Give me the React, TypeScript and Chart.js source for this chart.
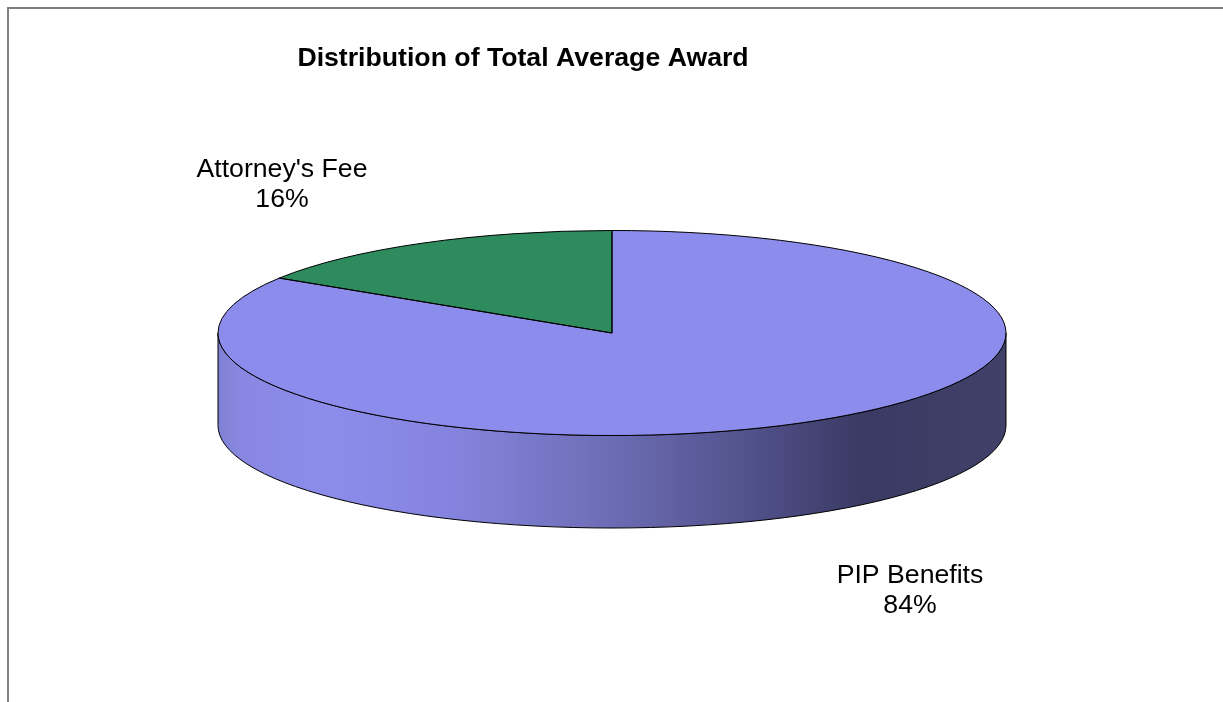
import React, { useEffect, useRef } from "react";
import { Chart, registerables } from "chart.js";

Chart.register(...registerables);

const chartTitle = "Distribution of Total Average Award";
const categories = ["PIP Benefits", "Attorney's Fee"];
const awardShares = [84, 16];
const sliceColors = ["#8C8CEC", "#2E8B5E"];

const FONT = '"Liberation Sans", Arial, sans-serif';
const TILT = 102.5 / 394;
const DEPTH = 92.5;

const piePlugin = {
  id: "tiltedPie",
  beforeDraw(chart: any) {
    const { ctx } = chart;
    ctx.save();
    ctx.fillStyle = "#FFFFFF";
    ctx.fillRect(0, 0, chart.width, chart.height);
    ctx.fillStyle = "#808080";
    ctx.fillRect(7, 7, chart.width - 7, 2);
    ctx.fillRect(7, 7, 2, chart.height - 7);
    ctx.restore();
  },
  beforeDatasetsDraw(chart: any) {
    const { ctx } = chart;
    const arcs = chart.getDatasetMeta(0).data;
    ctx.save();
    arcs.forEach((arc: any, i: number) => {
      const { x, y, startAngle, endAngle, outerRadius: r } = arc.getProps(["x", "y", "startAngle", "endAngle", "outerRadius"], true);
      const a0 = Math.max(startAngle, 0);
      const a1 = Math.min(endAngle, Math.PI);
      if (a1 <= a0) return;
      const ry = r * TILT;
      const g = ctx.createLinearGradient(x - r, 0, x + r, 0);
      g.addColorStop(0, "#8080D4");
      g.addColorStop(0.03, "#8888E2");
      g.addColorStop(0.14, "#8C8CEC");
      g.addColorStop(0.3, "#8484DE");
      g.addColorStop(0.5, "#6C6CB4");
      g.addColorStop(0.68, "#50508A");
      g.addColorStop(0.82, "#3A3A64");
      g.addColorStop(1, "#404068");
      ctx.beginPath();
      ctx.ellipse(x, y + DEPTH, r, ry, 0, a0, a1);
      ctx.ellipse(x, y, r, ry, 0, a1, a0, true);
      ctx.closePath();
      ctx.fillStyle = g;
      ctx.fill();
      ctx.strokeStyle = "#000000";
      ctx.lineWidth = 1;
      ctx.stroke();
    });
    ctx.restore();
    const first = arcs[0];
    ctx.save();
    ctx.translate(0, first.y);
    ctx.scale(1, TILT);
    ctx.translate(0, -first.y);
  },
  afterDatasetsDraw(chart: any) {
    const { ctx } = chart;
    ctx.restore();
    const arcs = chart.getDatasetMeta(0).data;
    ctx.save();
    ctx.strokeStyle = "#000000";
    ctx.lineWidth = 1;
    arcs.forEach((arc: any) => {
      const { x, y, startAngle, endAngle, outerRadius: r } = arc.getProps(["x", "y", "startAngle", "endAngle", "outerRadius"], true);
      ctx.beginPath();
      ctx.moveTo(x, y);
      ctx.ellipse(x, y, r, r * TILT, 0, startAngle, endAngle);
      ctx.closePath();
      ctx.stroke();
    });
    ctx.fillStyle = "#000000";
    ctx.textAlign = "center";
    ctx.textBaseline = "middle";
    ctx.font = `bold 26.67px ${FONT}`;
    ctx.fillText(chartTitle, 523, 59);
    ctx.font = `26.67px ${FONT}`;
    const total = awardShares.reduce((s, v) => s + v, 0);
    const spots = [
      [910, 576],
      [282, 170],
    ];
    categories.forEach((name, i) => {
      ctx.fillText(name, spots[i][0], spots[i][1]);
      ctx.fillText(`${Math.round((awardShares[i] / total) * 100)}%`, spots[i][0], spots[i][1] + 30);
    });
    ctx.restore();
  },
};

export default function App() {
  const ref = useRef<HTMLCanvasElement>(null);
  useEffect(() => {
    const chart = new Chart(ref.current!, {
      type: "pie",
      data: {
        labels: categories,
        datasets: [
          {
            data: awardShares,
            backgroundColor: sliceColors,
            borderWidth: 0,
            radius: 394,
            clip: false,
          } as any,
        ],
      },
      options: {
        animation: false,
        responsive: false,
        devicePixelRatio: 1,
        layout: { padding: { left: 1, right: 0, top: 0, bottom: 36 } },
        plugins: { legend: { display: false }, tooltip: { enabled: false }, title: { display: false } },
      },
      plugins: [piePlugin],
    });
    return () => chart.destroy();
  }, []);
  return (
    <canvas
      ref={ref}
      width={1223}
      height={702}
      style={{ position: "fixed", left: 0, top: 0, display: "block", width: 1223, height: 702 }}
    />
  );
}
